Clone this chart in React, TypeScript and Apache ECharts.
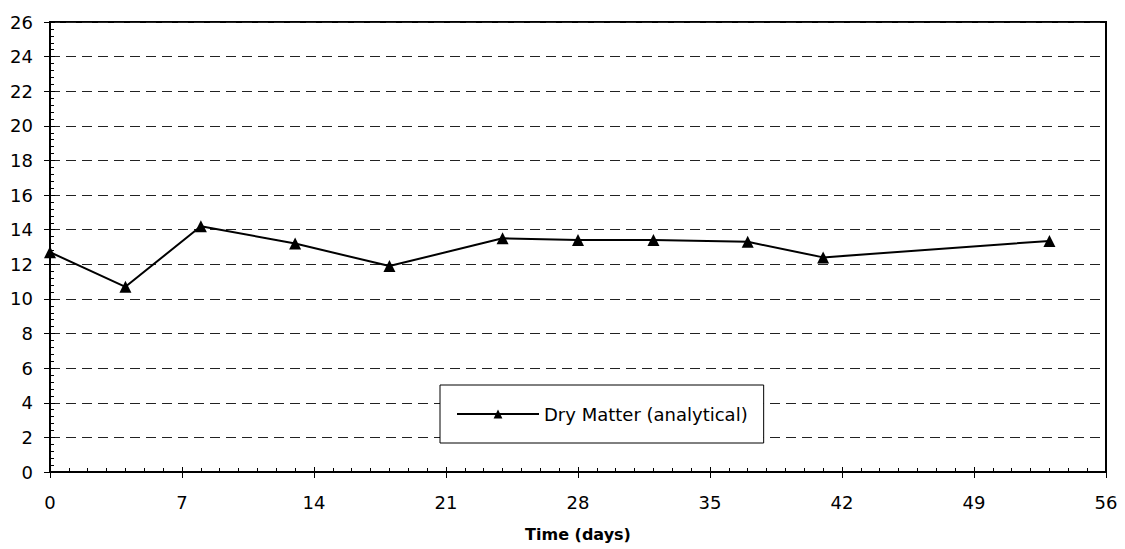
import React, { useEffect, useRef } from "react";
import * as echarts from "echarts";

const days = [0, 4, 8, 13, 18, 24, 28, 32, 37, 41, 53];
const dryMatter = [12.7, 10.7, 14.2, 13.2, 11.9, 13.5, 13.4, 13.4, 13.3, 12.4, 13.35];
const seriesName = "Dry Matter (analytical)";
const xAxisTitle = "Time (days)";

const FONT = "'DejaVu Sans', 'Liberation Sans', Arial, sans-serif";

export default function App() {
  const ref = useRef<HTMLDivElement>(null);
  useEffect(() => {
    if (!ref.current) return;
    const chart = echarts.init(ref.current, null, { renderer: "svg" });
    const data = days.map((d, i) => [d, dryMatter[i]]);
    chart.setOption({
      animation: false,
      backgroundColor: "#fff",
      textStyle: { fontFamily: FONT },
      grid: {
        left: 50,
        right: 19,
        top: 22,
        bottom: 77,
        show: true,
        borderColor: "#000",
        borderWidth: 2,
        backgroundColor: "transparent",
      },
      legend: {
        left: 440,
        top: 385,
        orient: "horizontal",
        backgroundColor: "#fff",
        borderColor: "#000",
        borderWidth: 1,
        borderRadius: 0,
        padding: [20, 16, 20, 16],
        itemWidth: 82,
        itemHeight: 11,
        itemGap: 10,
        textStyle: { fontSize: 18, color: "#000", fontFamily: FONT },
        data: [seriesName],
      },
      xAxis: [
        {
          type: "value",
          min: 0,
          max: 56,
          interval: 7,
          name: xAxisTitle,
          nameLocation: "middle",
          nameGap: 54,
          nameTextStyle: { fontSize: 16, fontWeight: "bold", color: "#000", fontFamily: FONT },
          axisLine: { show: true, onZero: false, lineStyle: { color: "#000", width: 2 } },
          axisTick: { show: true, inside: true, length: 5, lineStyle: { color: "#000" } },
          minorTick: { show: true, splitNumber: 7, length: 4, lineStyle: { color: "#000" } },
          axisLabel: { fontSize: 18, color: "#000", margin: 21, fontFamily: FONT },
          splitLine: { show: false },
        },
        {
          type: "value",
          min: 0,
          max: 56,
          interval: 7,
          position: "bottom",
          axisLine: { show: false, onZero: false },
          axisTick: { show: true, inside: false, length: 6, lineStyle: { color: "#000" } },
          axisLabel: { show: false },
          splitLine: { show: false },
        },
      ],
      yAxis: [
        {
          type: "value",
          min: 0,
          max: 26,
          interval: 2,
          axisLine: { show: true, onZero: false, lineStyle: { color: "#000", width: 2 } },
          axisTick: { show: true, inside: true, length: 5, lineStyle: { color: "#000" } },
          minorTick: { show: true, splitNumber: 5, length: 4, lineStyle: { color: "#000" } },
          axisLabel: { fontSize: 18, color: "#000", margin: 17, fontFamily: FONT },
          splitLine: {
            show: true,
            lineStyle: { color: "#222", width: 1, type: [10, 6] },
          },
        },
        {
          type: "value",
          min: 0,
          max: 26,
          interval: 2,
          position: "left",
          axisLine: { show: false, onZero: false },
          axisTick: { show: true, inside: false, length: 6, lineStyle: { color: "#000" } },
          axisLabel: { show: false },
          splitLine: { show: false },
        },
      ],
      series: [
        {
          name: seriesName,
          type: "line",
          data,
          xAxisIndex: 0,
          yAxisIndex: 0,
          symbol: "triangle",
          symbolSize: 12,
          itemStyle: { color: "#000" },
          lineStyle: { color: "#000", width: 2 },
        },
      ],
    });
    return () => chart.dispose();
  }, []);
  return (
    <div
      ref={ref}
      style={{ position: "fixed", left: 0, top: 0, width: 1125, height: 549, background: "#fff" }}
    />
  );
}
